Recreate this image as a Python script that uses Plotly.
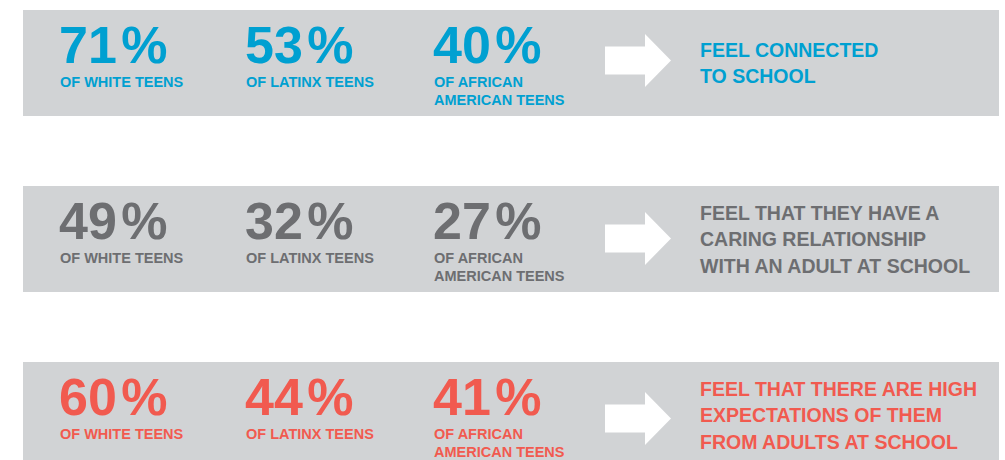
import plotly.graph_objects as go

# ---- data ----
groups = ["OF WHITE TEENS", "OF LATINX TEENS", "OF AFRICAN|AMERICAN TEENS"]
white_pct = [71, 49, 60]
latinx_pct = [53, 32, 44]
african_american_pct = [40, 27, 41]
statements = [
    "FEEL CONNECTED|TO SCHOOL",
    "FEEL THAT THEY HAVE A|CARING RELATIONSHIP|WITH AN ADULT AT SCHOOL",
    "FEEL THAT THERE ARE HIGH|EXPECTATIONS OF THEM|FROM ADULTS AT SCHOOL",
]
row_colors = ["#00a0d1", "#6d6e71", "#f15a4f"]

# ---- layout / style ----
W, H = 1005, 460
band_tops = [10, 186, 362]
band_h = 106
band_x0, band_x1 = 23, 999
band_color = "#d1d3d5"
col_x = [58, 244, 432]
arrow_dy = [-2.5, -0.5, 3.5]
text_x = 699

font_family = "Liberation Sans, Arial, Helvetica, sans-serif"

fig = go.Figure()
shapes = []
annotations = []

rows = list(zip(white_pct, latinx_pct, african_american_pct))
for r, top in enumerate(band_tops):
    color = row_colors[r]
    shapes.append(dict(type="rect", xref="x", yref="y", x0=band_x0, x1=band_x1,
                       y0=top, y1=top + band_h, fillcolor=band_color,
                       line=dict(width=0), layer="below"))
    # arrow
    cy = top + band_h / 2 + arrow_dy[r]
    path = (f"M 605 {cy-14} L 645 {cy-14} L 645 {cy-26.5} L 671 {cy} "
            f"L 645 {cy+26.5} L 645 {cy+14} L 605 {cy+14} Z")
    shapes.append(dict(type="path", xref="x", yref="y", path=path,
                       fillcolor="white", line=dict(width=0)))
    # percentages and group labels
    for c, val in enumerate(rows[r]):
        annotations.append(dict(x=col_x[c], y=top + 35, xref="x", yref="y",
                                text=f"{val}\u200a%", showarrow=False,
                                xanchor="left", yanchor="middle", borderpad=0,
                                font=dict(family=font_family, size=52, color=color,
                                          weight="bold")))
        for li, line in enumerate(groups[c].split("|")):
            annotations.append(dict(x=col_x[c] + 1, y=top + 71.5 + li * 18.5,
                                    xref="x", yref="y", text=line,
                                    showarrow=False, xanchor="left",
                                    yanchor="middle", borderpad=0,
                                    font=dict(family=font_family, size=14.5,
                                              color=color, weight="bold")))
    # statement
    lines = statements[r].split("|")
    n = len(lines)
    for li, line in enumerate(lines):
        yy = top + 53 + (li - (n - 1) / 2) * 26.5
        annotations.append(dict(x=text_x, y=yy, xref="x", yref="y", text=line,
                                showarrow=False, xanchor="left", yanchor="middle",
                                borderpad=0,
                                font=dict(family=font_family, size=19.5,
                                          color=color, weight="bold")))

fig.update_layout(
    width=W, height=H,
    margin=dict(l=0, r=0, t=0, b=0),
    paper_bgcolor="white", plot_bgcolor="white",
    xaxis=dict(range=[0, W], visible=False, fixedrange=True),
    yaxis=dict(range=[H, 0], visible=False, fixedrange=True),
    shapes=shapes, annotations=annotations,
    showlegend=False,
)

fig.write_html("out.html", config={"displayModeBar": False},
               post_script="document.body.style.margin='0';")
